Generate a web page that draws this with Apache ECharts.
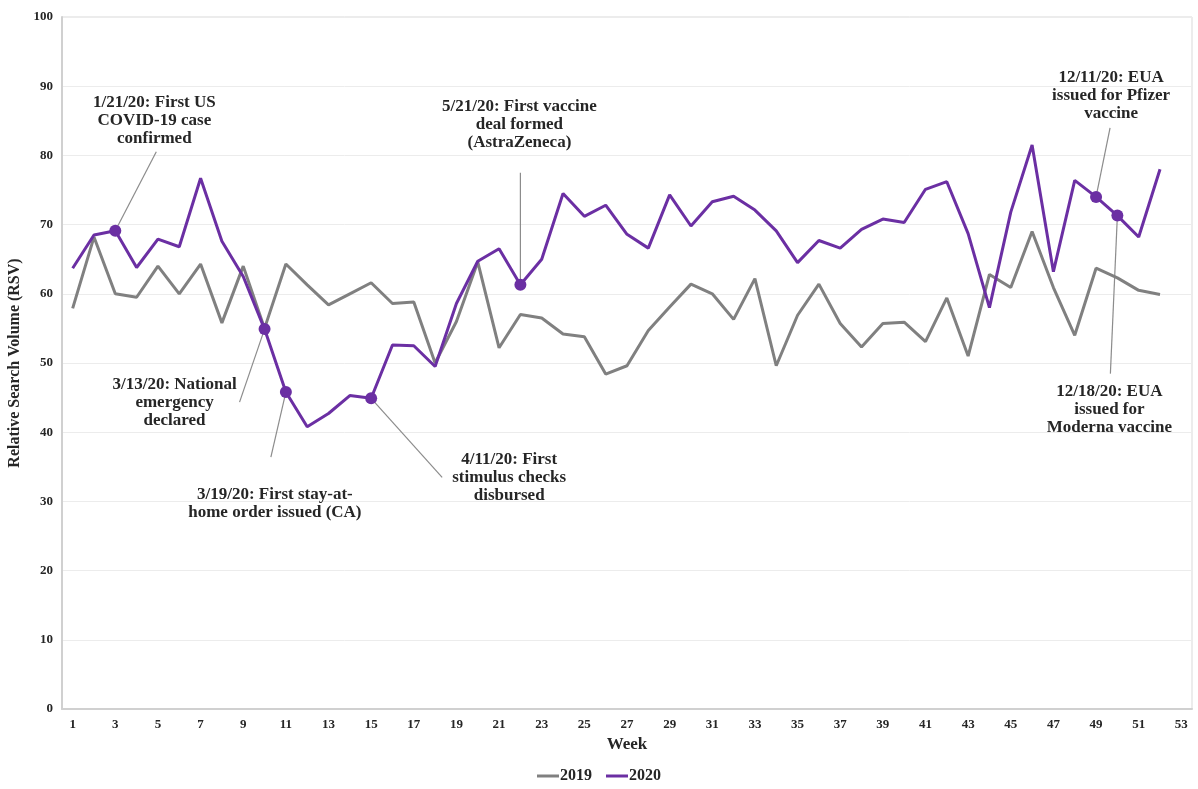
<!DOCTYPE html>
<html>
<head>
<meta charset="utf-8">
<script src="https://cdn.jsdelivr.net/npm/echarts@6/dist/echarts.min.js"></script>
<style>
html,body{margin:0;padding:0;background:#fff;}
#chart{width:1198px;height:789px;}
</style>
</head>
<body>
<div id="chart"></div>
<script>
// ---- data ----
const weeks = Array.from({length: 53}, (_, i) => String(i + 1));
const rsv2019 = [57.9, 68.2, 60.0, 59.5, 64.0, 60.0, 64.3, 55.8, 64.0, 55.0,
  64.3, 61.3, 58.4, 60.0, 61.6, 58.6, 58.8, 50.0, 56.0, 64.6,
  52.2, 57.0, 56.5, 54.2, 53.8, 48.4, 49.6, 54.7, 58.1, 61.4,
  60.0, 56.3, 62.2, 49.6, 56.9, 61.4, 55.7, 52.3, 55.7, 55.9,
  53.1, 59.4, 51.0, 62.8, 60.9, 69.0, 60.9, 54.0, 63.7, 62.3,
  60.5, 59.9];
const rsv2020 = [63.7, 68.5, 69.1, 63.8, 67.9, 66.8, 76.7, 67.6, 62.5, 54.9,
  45.8, 40.8, 42.7, 45.3, 44.9, 52.6, 52.5, 49.5, 58.6, 64.7,
  66.5, 61.3, 65.0, 74.5, 71.2, 72.8, 68.6, 66.6, 74.3, 69.8,
  73.3, 74.1, 72.1, 69.1, 64.5, 67.7, 66.6, 69.3, 70.8, 70.3,
  75.1, 76.2, 68.7, 58.0, 71.8, 81.5, 63.2, 76.4, 74.0, 71.3,
  68.2, 78.0];
const eventWeeks = [3, 10, 11, 15, 22, 49, 50];
const eventTexts = [
  '1/21/20: First US\nCOVID-19 case\nconfirmed',
  '3/13/20: National\nemergency\ndeclared',
  '3/19/20: First stay-at-\nhome order issued (CA)',
  '4/11/20: First\nstimulus checks\ndisbursed',
  '5/21/20: First vaccine\ndeal formed\n(AstraZeneca)',
  '12/11/20: EUA\nissued for Pfizer\nvaccine',
  '12/18/20: EUA\nissued for\nModerna vaccine'
];
const yTicks = {min: 0, max: 100, interval: 10};

// ---- layout of annotations (pixel offsets from the marked point) ----
const annLayout = [
  {line: [41, -79], text: [39, -110]},
  {line: [-25, 73], text: [-90, 74]},
  {line: [-15, 65], text: [-11, 112]},
  {line: [71, 79], text: [138, 79]},
  {line: [0, -112], text: [-1, -160]},
  {line: [14, -69], text: [15, -101]},
  {line: [-7, 158], text: [-8, 194]}
];

const FONT = '"Liberation Serif", "DejaVu Serif", serif';
const GRAY = '#808080';
const PURPLE = '#6b2fa3';

const chart = echarts.init(document.getElementById('chart'));
const option = {
  animation: false,
  backgroundColor: '#fff',
  grid: {left: 62, right: 6, top: 17, bottom: 80, show: true, borderColor: '#d9d9d9', borderWidth: 1,
         containLabel: false, outerBoundsMode: 'none'},
  xAxis: {
    type: 'category',
    data: weeks,
    boundaryGap: true,
    name: 'Week',
    nameLocation: 'middle',
    nameGap: 27,
    nameTextStyle: {fontFamily: FONT, fontWeight: 'bold', fontSize: 17, color: '#262626'},
    axisLine: {lineStyle: {color: '#d0d0d0', width: 2}},
    axisTick: {show: false},
    axisLabel: {interval: 1, fontFamily: FONT, fontWeight: 'bold', fontSize: 13, color: '#262626', margin: 9},
    splitLine: {show: false}
  },
  yAxis: {
    type: 'value',
    min: yTicks.min, max: yTicks.max, interval: yTicks.interval,
    name: 'Relative Search Volume (RSV)',
    nameLocation: 'middle',
    nameGap: 36,
    nameTextStyle: {fontFamily: FONT, fontWeight: 'bold', fontSize: 16, color: '#262626'},
    axisLine: {show: true, lineStyle: {color: '#d0d0d0', width: 2}},
    axisTick: {show: false},
    axisLabel: {fontFamily: FONT, fontWeight: 'bold', fontSize: 13, color: '#262626', margin: 9},
    splitLine: {lineStyle: {color: '#ececec', width: 1}}
  },
  legend: {
    bottom: 0,
    left: 'center',
    itemWidth: 22,
    itemHeight: 3,
    itemGap: 14,
    textStyle: {fontFamily: FONT, fontWeight: 'bold', fontSize: 16, color: '#262626', padding: [0, 0, 0, -4]},
    data: [{name: '2019', icon: 'rect'}, {name: '2020', icon: 'rect'}]
  },
  series: [
    {
      name: '2019', type: 'line', data: rsv2019,
      symbol: 'none',
      lineStyle: {color: GRAY, width: 3},
      itemStyle: {color: GRAY}
    },
    {
      name: '2020', type: 'line', data: rsv2020,
      symbol: 'circle',
      showAllSymbol: true,
      symbolSize: (v, p) => eventWeeks.includes(p.dataIndex + 1) ? 12 : 0,
      lineStyle: {color: PURPLE, width: 3},
      itemStyle: {color: PURPLE},
      z: 3
    }
  ]
};
chart.setOption(option);

function drawAnnotations() {
  const elements = [];
  eventWeeks.forEach((w, i) => {
    const p = chart.convertToPixel({seriesIndex: 1}, [w - 1, rsv2020[w - 1]]);
    const L = annLayout[i];
    elements.push({
      type: 'line', z: 1, silent: true,
      shape: {x1: p[0] + L.line[0], y1: p[1] + L.line[1], x2: p[0], y2: p[1]},
      style: {stroke: '#8c8c8c', lineWidth: 1.2}
    });
    elements.push({
      type: 'text', z: 10, silent: true,
      x: p[0] + L.text[0], y: p[1] + L.text[1],
      style: {
        text: eventTexts[i], fontFamily: FONT, fontWeight: 'bold', fontSize: 17,
        lineHeight: 18, fill: '#262626', align: 'center', verticalAlign: 'middle'
      }
    });
  });
  chart.setOption({graphic: {elements: elements}});
}
drawAnnotations();
</script>
</body>
</html>
